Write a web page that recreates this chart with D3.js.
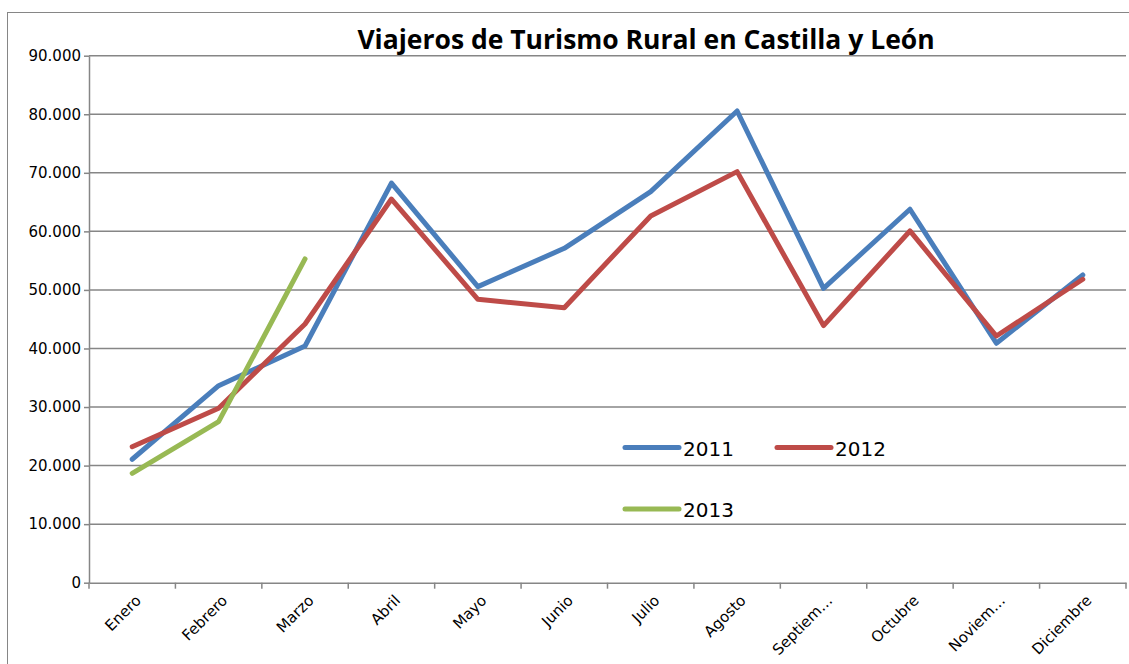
<!DOCTYPE html>
<html>
<head>
<meta charset="utf-8">
<script src="https://cdn.jsdelivr.net/npm/d3@7"></script>
<style>
  body { margin: 0; background: #fff; }
  text { font-family: "DejaVu Sans", sans-serif; fill: #000; }
</style>
</head>
<body>
<script>
var width = 1129;
var height = 664;

// chart data
var months = ["Enero", "Febrero", "Marzo", "Abril", "Mayo", "Junio", "Julio",
              "Agosto", "Septiem…", "Octubre", "Noviem…", "Diciembre"];
var viajeros2011 = [21080, 33650, 40430, 68250, 50560, 57110, 66780, 80560, 50280, 63780, 40890, 52550];
var viajeros2012 = [23230, 29790, 44180, 65520, 48400, 46970, 62630, 70200, 43900, 60070, 42130, 51820];
var viajeros2013 = [18680, 27500, 55290];
var yTicks = [0, 10000, 20000, 30000, 40000, 50000, 60000, 70000, 80000, 90000];

var series = [
  { name: "2011", values: viajeros2011, color: "#4A7EBB" },
  { name: "2012", values: viajeros2012, color: "#BE4B48" },
  { name: "2013", values: viajeros2013, color: "#98B954" }
];

var plot = { left: 89, right: 1126, top: 55.7, bottom: 582.7 };

var svg = d3.select("body")
            .append("svg")
            .attr("width", width)
            .attr("height", height);

// outer chart border (runs off the right and bottom edges)
svg.append("rect")
   .attr("x", 7.5).attr("y", 12.5)
   .attr("width", 1140).attr("height", 680)
   .attr("fill", "none")
   .attr("stroke", "#868686")
   .attr("stroke-width", 1);

var xScale = d3.scaleBand().domain(months).range([plot.left, plot.right]);
var yScale = d3.scaleLinear().domain([0, 90000]).range([plot.bottom, plot.top]);

var es = d3.formatLocale({ decimal: ",", thousands: ".", grouping: [3], currency: ["", ""] });
var fmt = es.format(",d");

// horizontal gridlines
svg.append("g")
   .selectAll("line")
   .data(yTicks.filter(function(d) { return d > 0; }))
   .enter()
   .append("line")
   .attr("x1", plot.left).attr("x2", plot.right)
   .attr("y1", function(d) { return yScale(d); })
   .attr("y2", function(d) { return yScale(d); })
   .attr("stroke", "#868686")
   .attr("stroke-width", 1.5);

// y axis
var yAxis = svg.append("g")
   .attr("transform", `translate(${plot.left}, 0)`)
   .call(d3.axisLeft(yScale).tickValues(yTicks).tickFormat(fmt).tickSize(5).tickSizeOuter(0).tickPadding(3));
yAxis.attr("font-family", null).attr("font-size", null);
yAxis.select(".domain").attr("stroke", "#868686").attr("stroke-width", 1.5);
yAxis.selectAll(".tick line").attr("stroke", "#868686").attr("stroke-width", 1.5);
yAxis.selectAll(".tick text").style("font-size", "15px").attr("fill", "#000");

// x axis
var xAxis = svg.append("g")
   .attr("transform", `translate(0, ${plot.bottom})`)
   .call(d3.axisBottom(xScale).tickSize(0).tickSizeOuter(0));
xAxis.attr("font-family", null).attr("font-size", null);
xAxis.select(".domain").attr("stroke", "#868686").attr("stroke-width", 1.5);
xAxis.selectAll(".tick line").remove();

// category boundary ticks
var bounds = months.map(function(m) { return xScale(m); }).concat([plot.right]);
xAxis.selectAll(".bound")
     .data(bounds)
     .enter()
     .append("line")
     .attr("class", "bound")
     .attr("x1", function(d) { return d; }).attr("x2", function(d) { return d; })
     .attr("y1", 0).attr("y2", 6)
     .attr("stroke", "#868686")
     .attr("stroke-width", 1.5);

xAxis.selectAll(".tick text")
     .style("font-size", "15px")
     .attr("fill", "#000")
     .attr("text-anchor", "end")
     .attr("transform", "translate(6, 15) rotate(-45)")
     .attr("dy", "0.35em")
     .attr("y", 0).attr("x", 0);

// series lines
var line = d3.line()
   .x(function(d, i) { return xScale(months[i]) + xScale.bandwidth() / 2; })
   .y(function(d) { return yScale(d); });

svg.append("g")
   .selectAll("path")
   .data(series)
   .enter()
   .append("path")
   .attr("d", function(s) { return line(s.values); })
   .attr("fill", "none")
   .attr("stroke", function(s) { return s.color; })
   .attr("stroke-width", 5)
   .attr("stroke-linejoin", "round")
   .attr("stroke-linecap", "round");

// legend
var legendPos = [[625, 447.5], [777, 447.5], [625, 509]];
var legend = svg.append("g")
   .selectAll("g")
   .data(series)
   .enter()
   .append("g")
   .attr("transform", function(s, i) { return `translate(${legendPos[i][0]}, ${legendPos[i][1]})`; });

legend.append("line")
      .attr("x1", 0).attr("x2", 54)
      .attr("y1", 0).attr("y2", 0)
      .attr("stroke", function(s) { return s.color; })
      .attr("stroke-width", 5)
      .attr("stroke-linecap", "round");

legend.append("text")
      .attr("x", 58)
      .attr("y", 8)
      .style("font-size", "20px")
      .text(function(s) { return s.name; });

// title
svg.append("text")
   .attr("x", 646)
   .attr("y", 49)
   .attr("text-anchor", "middle")
   .style("font-family", "'Open Sans', sans-serif")
   .style("font-size", "26.5px")
   .style("font-weight", "bold")
   .text("Viajeros de Turismo Rural en Castilla y León");
</script>
</body>
</html>
